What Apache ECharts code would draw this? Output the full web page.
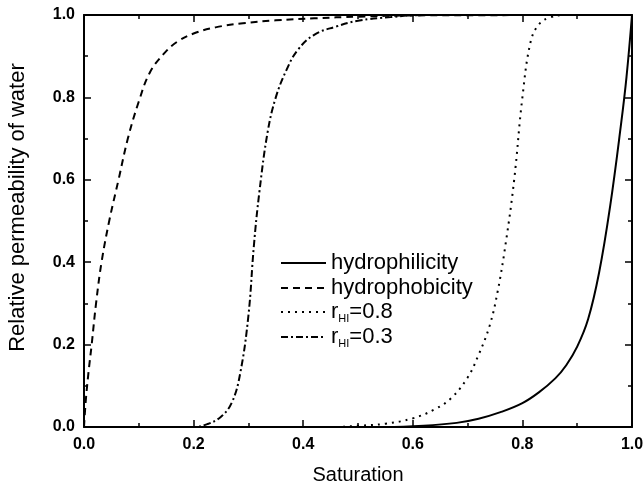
<!DOCTYPE html>
<html>
<head>
<meta charset="utf-8">
<script src="https://cdn.jsdelivr.net/npm/echarts@6/dist/echarts.min.js"></script>
<style>
  html, body { margin: 0; padding: 0; background: #fff; }
  #chart { width: 643px; height: 487px; }
</style>
</head>
<body>
<div id="chart"></div>
<script>
  // values
  let philicX = [0, 0.55, 0.62, 0.68, 0.72, 0.76, 0.80, 0.83, 0.86, 0.88, 0.90, 0.92, 0.94, 0.96, 0.98, 0.99, 1.0];
  let philicY = [0, 0, 0.003, 0.010, 0.020, 0.036, 0.058, 0.084, 0.118, 0.150, 0.195, 0.262, 0.375, 0.535, 0.735, 0.850, 1.0];

  let phobicX = [0, 0.003, 0.008, 0.014, 0.022, 0.032, 0.046, 0.063, 0.080, 0.100, 0.12, 0.145, 0.17, 0.20, 0.24, 0.29, 0.35, 0.42, 0.50, 0.60, 1.0];
  let phobicY = [0, 0.06, 0.13, 0.2, 0.3, 0.4, 0.5, 0.6, 0.7, 0.79, 0.86, 0.905, 0.935, 0.955, 0.97, 0.98, 0.987, 0.992, 0.996, 0.999, 1.0];

  let r08X = [0, 0.45, 0.50, 0.55, 0.60, 0.64, 0.67, 0.70, 0.72, 0.74, 0.755, 0.77, 0.785, 0.80, 0.815, 0.83, 0.85, 0.88, 1.0];
  let r08Y = [0, 0, 0.003, 0.008, 0.021, 0.043, 0.070, 0.120, 0.175, 0.245, 0.330, 0.450, 0.600, 0.800, 0.935, 0.977, 0.994, 1.0, 1.0];

  let r03X = [0, 0.20, 0.225, 0.25, 0.27, 0.285, 0.30, 0.31, 0.32, 0.335, 0.35, 0.37, 0.39, 0.42, 0.46, 0.50, 0.56, 0.62, 1.0];
  let r03Y = [0, 0, 0.007, 0.025, 0.060, 0.130, 0.270, 0.440, 0.570, 0.715, 0.800, 0.868, 0.915, 0.952, 0.972, 0.986, 0.995, 1.0, 1.0];

  let tickLabels = ['0.0', '0.2', '0.4', '0.6', '0.8', '1.0'];
  let names = ['hydrophilicity', 'hydrophobicity', 'r_HI=0.8', 'r_HI=0.3'];
  let legendTops = [252, 277, 301, 326];

  function pairs(xs, ys) {
    return xs.map(function (x, i) { return [x, ys[i]]; });
  }

  let myChart = echarts.init(document.getElementById('chart'));

  let font = 'Liberation Sans, Arial, sans-serif';

  function axisBase(extra) {
    let ax = {
      type: 'value',
      min: 0,
      max: 1,
      interval: 0.2,
      axisLine: { show: true, onZero: false, lineStyle: { color: '#000', width: 2 } },
      axisTick: { show: true, inside: true, length: 7, lineStyle: { color: '#000', width: 1.5 } },
      minorTick: { show: true, splitNumber: 2, length: 4, lineStyle: { color: '#000', width: 1.5 } },
      splitLine: { show: false },
      axisLabel: {
        color: '#000',
        fontFamily: font,
        fontWeight: 'bold',
        fontSize: 16,
        formatter: function (v) { return tickLabels[Math.round(v * 5)]; }
      }
    };
    return Object.assign(ax, extra);
  }

  let lineTypes = [
    { type: 'solid' },
    { type: [7, 5] },
    { type: [2, 5] },
    { type: [7, 3, 2, 3] }
  ];
  let seriesData = [pairs(philicX, philicY), pairs(phobicX, phobicY), pairs(r08X, r08Y), pairs(r03X, r03Y)];

  let option = {
    backgroundColor: '#fff',
    animation: false,
    grid: { left: 84, right: 11, top: 15, bottom: 60, outerBoundsMode: 'none' },
    legend: names.map(function (n, i) {
      return {
        data: [n],
        left: 280,
        top: legendTops[i],
        padding: 0,
        itemWidth: 45,
        itemHeight: 14,
        itemGap: 0,
        selectedMode: false,
        itemStyle: { opacity: 0 },
        textStyle: {
          color: '#000',
          fontFamily: font,
          fontSize: 22,
          rich: {
            sub: { fontSize: 11, fontFamily: font, color: '#000', padding: [14, 0, 0, 0] }
          }
        },
        formatter: function (name) { return name.replace('r_HI', 'r{sub|HI}'); }
      };
    }),
    xAxis: [
      axisBase({
        position: 'bottom',
        name: 'Saturation',
        nameLocation: 'middle',
        nameGap: 38,
        nameTextStyle: { color: '#000', fontFamily: font, fontSize: 20 },
        axisLabel: Object.assign(axisBase({}).axisLabel, { margin: 10 })
      }),
      axisBase({ position: 'top', axisLabel: { show: false } })
    ],
    yAxis: [
      axisBase({
        position: 'left',
        name: 'Relative permeability of water',
        nameLocation: 'middle',
        nameGap: 55,
        nameTextStyle: { color: '#000', fontFamily: font, fontSize: 22, padding: [0, 0, 0, 27] },
        axisLabel: Object.assign(axisBase({}).axisLabel, { margin: 9 })
      }),
      axisBase({ position: 'right', axisLabel: { show: false } })
    ],
    series: names.map(function (n, i) {
      return {
        name: n,
        type: 'line',
        xAxisIndex: 0,
        yAxisIndex: 0,
        showSymbol: false,
        symbol: 'none',
        smooth: 0.4,
        lineStyle: Object.assign({ color: '#000', width: 2 }, lineTypes[i]),
        itemStyle: { color: '#000' },
        data: seriesData[i]
      };
    })
  };
  myChart.setOption(option);

  window.addEventListener('resize', function () {
    myChart.resize();
  });
</script>
</body>
</html>
